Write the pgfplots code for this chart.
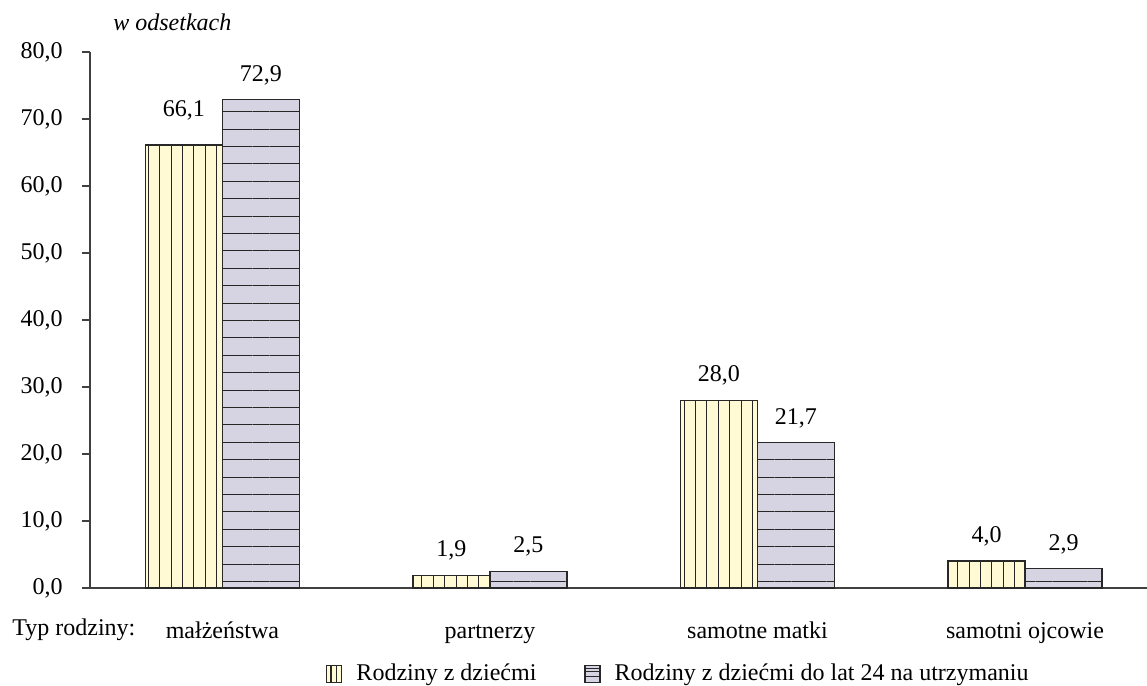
\documentclass[border=0pt]{standalone}
\usepackage{fontspec}
\setmainfont{Liberation Serif}
\usepackage{pgfplots}
\pgfplotsset{compat=1.18}
\usetikzlibrary{patterns.meta}

\definecolor{cyel}{RGB}{255,250,212}
\definecolor{clav}{RGB}{214,212,226}
\definecolor{cedge}{RGB}{40,40,40}

\begin{document}
\fontsize{12}{14}\selectfont
\begin{tikzpicture}
\useasboundingbox (0,0) rectangle (573.5pt,343pt);
\begin{axis}[
    at={(45pt,49pt)}, anchor=south west,
    scale only axis,
    width=528.5pt, height=268pt,
    xmin=-0.495, xmax=3.456,
    ymin=0, ymax=80,
    axis x line*=bottom, axis y line*=left,
    axis line style={black!75, line width=0.6pt},
    ytick={0,10,...,80},
    yticklabel={\pgfmathprintnumber[fixed,fixed zerofill,precision=1,use comma,assume math mode=true]{\tick}},
    tick align=outside,
    major tick length=4pt,
    ytick style={black!75, line width=0.6pt},
    yticklabel style={inner sep=0pt, xshift=-9.5pt},
    xtick={0,1,2,3},
    xticklabels={małżeństwa, partnerzy, samotne matki, samotni ojcowie},
    xtick style={draw=none},
    xticklabel style={anchor=base, inner sep=0pt, yshift=-21pt},
    ybar=0pt, bar width=38.5pt,
    nodes near coords={\pgfmathprintnumber[fixed,fixed zerofill,precision=1,use comma,assume math mode=true]{\pgfplotspointmeta}},
    nodes near coords style={anchor=south, inner sep=0pt, yshift=7pt, black},
    legend columns=2,
    legend style={draw=none, fill=none, at={(0.2175,-0.1604)}, anchor=west,
        /tikz/every odd column/.append style={column sep=5pt},
        /tikz/every even column/.append style={column sep=22pt}},
    clip=false,
]
\addplot[fill=cyel, draw=cedge, line width=0.75pt,
    postaction={pattern={Lines[angle=90,distance=5.7pt,line width=0.5pt]}, pattern color=black!85},
    visualization depends on={rawx \as \rawx},
    every node near coord/.append style={yshift={ifthenelse(\rawx==0,5,0)}},
    legend image code/.code={
        \draw[fill=cyel, draw=cedge, line width=0.6pt] (0pt,-4.25pt) rectangle (7.5pt,4.25pt);
        \draw[cedge, line width=0.5pt] (2.5pt,-4.25pt) -- (2.5pt,4.25pt) (5pt,-4.25pt) -- (5pt,4.25pt);
    }]
    coordinates {(0,66.1) (1,1.9) (2,28.0) (3,4.0)};
\addlegendentry{Rodziny z dziećmi}
\addplot[fill=clav, draw=cedge, line width=0.75pt,
    postaction={pattern={Lines[angle=0,distance=8.7pt,line width=0.5pt]}, pattern color=black!85},
    legend image code/.code={
        \draw[fill=clav, draw=cedge, line width=0.6pt] (0pt,-4.25pt) rectangle (7.5pt,4.25pt);
        \draw[cedge, line width=0.5pt] (0pt,-1.42pt) -- (7.5pt,-1.42pt) (0pt,1.42pt) -- (7.5pt,1.42pt);
    }]
    coordinates {(0,72.9) (1,2.5) (2,21.7) (3,2.9)};
\addlegendentry{Rodziny z dziećmi do lat 24 na utrzymaniu}
\end{axis}
\node[anchor=base west, inner sep=0pt, font=\itshape] at (56.5pt,327.5pt) {w odsetkach};
\node[anchor=base west, inner sep=0pt] at (6pt,25pt) {Typ rodziny:};
\end{tikzpicture}
\end{document}
